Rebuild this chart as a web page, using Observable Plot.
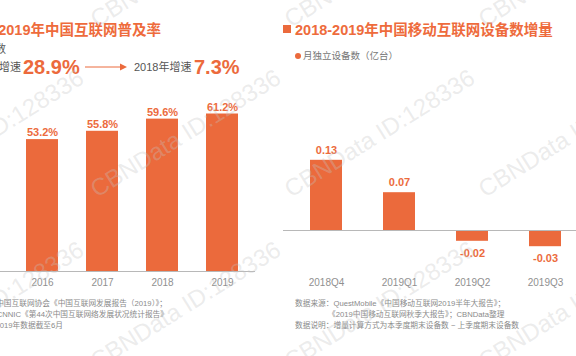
<!DOCTYPE html>
<html>
<head>
<meta charset="utf-8">
<script src="https://cdn.jsdelivr.net/npm/d3@7"></script>
<script src="https://cdn.jsdelivr.net/npm/@observablehq/plot@0.6"></script>
<style>
  html, body { margin: 0; padding: 0; background: #fff; }
  #wrap { position: relative; width: 576px; height: 356px; overflow: hidden; background: #fff;
          font-family: "Liberation Sans", "Noto Sans CJK SC", sans-serif; }
  .abs { position: absolute; white-space: nowrap; }
  .t { color: #ee6b3c; font-weight: bold; font-size: 14.5px; line-height: 14.5px; }
  .sub { color: #555; font-size: 11px; line-height: 11px; }
  .big { color: #ec6a3c; font-weight: bold; font-size: 20px; line-height: 20px; }
  .note { color: #8a8a8a; font-size: 7.7px; line-height: 8px; }
  .ra { text-align: right; }
  svg.wm { position: absolute; left: 0; top: 0; pointer-events: none; }
</style>
</head>
<body>
<div id="wrap"></div>
<script>
// ---- data ----
const years = ["2016", "2017", "2018", "2019"];
const penetration = [53.2, 55.8, 59.6, 61.2];   // 互联网普及率 (%)
const quarters = ["2018Q4", "2019Q1", "2019Q2", "2019Q3"];
const deviceIncrement = [0.13, 0.07, -0.02, -0.03]; // 月独立设备数增量 (亿台)

const leftTitle = "2016-2019年中国互联网普及率";
const rightTitle = "2018-2019年中国移动互联网设备数增量";
const legendLabel = "月独立设备数（亿台）";
const leftNotes = ["数据来源：中国互联网协会《中国互联网发展报告（2019）》；",
                   "CNNIC《第44次中国互联网络发展状况统计报告》",
                   "2019年数据截至6月"];
const rightNotes = ["数据来源：QuestMobile《中国移动互联网2019半年大报告》；",
                    "《2019中国移动互联网秋季大报告》；CBNData整理",
                    "数据说明：增量计算方式为本季度期末设备数 − 上季度期末设备数"];
const watermark = "CBNData ID:128336";

const ORANGE = "#eb6a3c";
const LABEL = "#ec6b3d";
const FONT = "'Liberation Sans', 'Noto Sans CJK SC', sans-serif";
const wrap = document.getElementById("wrap");

function addDiv(cls, text, css) {
  const d = document.createElement("div");
  d.className = "abs " + cls;
  d.textContent = text;
  Object.assign(d.style, css);
  wrap.appendChild(d);
  return d;
}

// ---- left chart ----
const yBase = 12;
const leftData = years.map((y, i) => ({year: y, rate: penetration[i]}));
const left = Plot.plot({
  width: 288, height: 356,
  marginLeft: 0, marginRight: 33, marginTop: 113.5, marginBottom: 85,
  style: {background: "transparent", fontFamily: FONT, overflow: "visible"},
  x: {domain: years, range: [11.8, 251.3], paddingInner: 0.467, paddingOuter: 0.2},
  y: {domain: [yBase, 61.2], axis: null},
  marks: [
    Plot.barY(leftData, {x: "year", y1: yBase, y2: "rate", fill: ORANGE}),
    Plot.ruleY([yBase], {stroke: "#b8b8b8", strokeWidth: 1}),
    Plot.text(leftData, {x: "year", y: "rate", text: d => d.rate.toFixed(1) + "%",
      dy: -7, fill: LABEL, fontWeight: "bold", fontSize: 11}),
    Plot.axisX({tickSize: 0, tickPadding: 7, fontSize: 10, fill: "#909090", label: null})
  ]
});
left.style.position = "absolute"; left.style.left = "0px"; left.style.top = "0px";
wrap.appendChild(left);

// ---- right chart ----
const rightData = quarters.map((q, i) => ({q, v: deviceIncrement[i]}));
const right = Plot.plot({
  width: 293, height: 356,
  marginLeft: 0, marginRight: 0, marginTop: 100, marginBottom: 85,
  style: {background: "transparent", fontFamily: FONT, overflow: "visible"},
  x: {domain: quarters, range: [4, 300.8], paddingInner: 0.557, paddingOuter: 0.3},
  y: {domain: [-0.04, 0.13], range: [251.6, 159.8], axis: null},
  marks: [
    Plot.barY(rightData, {x: "q", y: "v", fill: ORANGE}),
    Plot.ruleY([0], {stroke: "#b8b8b8", strokeWidth: 1}),
    Plot.text(rightData.filter(d => d.v >= 0), {x: "q", y: "v", text: d => d.v.toFixed(2),
      dy: -10, fill: LABEL, fontWeight: "bold", fontSize: 11}),
    Plot.text(rightData.filter(d => d.v < 0), {x: "q", y: "v", text: d => d.v.toFixed(2),
      dy: 12, fill: LABEL, fontWeight: "bold", fontSize: 11}),
    Plot.axisX({tickSize: 0, tickPadding: 7, fontSize: 10, fill: "#909090", label: null})
  ]
});
right.style.position = "absolute"; right.style.left = "283px"; right.style.top = "0px";
wrap.appendChild(right);

// ---- titles / texts ----
addDiv("t ra", leftTitle, {right: (576 - 161) + "px", top: "23px"});
const sq = document.createElement("div");
Object.assign(sq.style, {position: "absolute", left: "283px", top: "25px", width: "8px", height: "8px", background: ORANGE});
wrap.appendChild(sq);
addDiv("t", rightTitle, {left: "295px", top: "23px"});

// legend
const dot = document.createElement("div");
Object.assign(dot.style, {position: "absolute", left: "295px", top: "53px", width: "6px", height: "6px",
  borderRadius: "50%", background: ORANGE});
wrap.appendChild(dot);
addDiv("", legendLabel, {left: "303px", top: "51px", fontSize: "9.5px", lineHeight: "10px", color: "#777"});

// left summary line
addDiv("sub ra", "数", {right: (576 - 6) + "px", top: "44px"});
addDiv("sub ra", "增速", {right: (576 - 21) + "px", top: "61.5px"});
addDiv("big", "28.9%", {left: "23px", top: "57px"});
const arrow = document.createElementNS("http://www.w3.org/2000/svg", "svg");
arrow.setAttribute("width", "46"); arrow.setAttribute("height", "10");
Object.assign(arrow.style, {position: "absolute", left: "84px", top: "62px"});
arrow.innerHTML = '<line x1="1" y1="5" x2="38" y2="5" stroke="' + ORANGE + '" stroke-width="1"/>' +
  '<path d="M36,1.5 L43,5 L36,8.5 Z" fill="' + ORANGE + '"/>';
wrap.appendChild(arrow);
addDiv("sub", "2018年增速", {left: "134px", top: "61.5px"});
addDiv("big", "7.3%", {left: "194px", top: "57px"});

// notes
const leftEnds = [167, 168, 63];
leftNotes.forEach((t, i) => addDiv("note ra", t, {right: (576 - leftEnds[i]) + "px", top: (300 + i * 11) + "px"}));
const rightStarts = [295, 328, 295];
rightNotes.forEach((t, i) => addDiv("note", t, {left: rightStarts[i] + "px", top: (300 + i * 11) + "px"}));

// ---- watermark overlay ----
const wm = document.createElementNS("http://www.w3.org/2000/svg", "svg");
wm.setAttribute("class", "wm");
wm.setAttribute("width", "576"); wm.setAttribute("height", "356");
const rowsY = [28, 198, 370];
const colsX = [-100, 97, 291, 485];
let s = "";
rowsY.forEach(y => colsX.forEach(x => {
  s += '<text transform="translate(' + x + ',' + y + ') rotate(-32)" font-family="Liberation Sans, sans-serif" font-size="24" fill="#c4c4c4" fill-opacity="0.32">' + watermark + '</text>';
}));
wm.innerHTML = s;
wrap.appendChild(wm);
</script>
</body>
</html>
